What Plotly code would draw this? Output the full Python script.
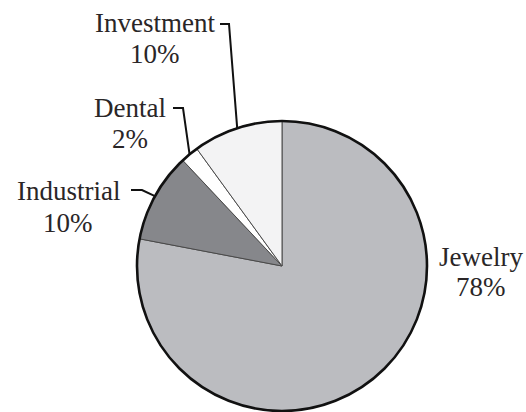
import math
import plotly.graph_objects as go

# Share of demand by end use
categories = ["Jewelry", "Industrial", "Dental", "Investment"]
shares = [78, 10, 2, 10]
fill_colors = ["#bbbcc0", "#86878b", "#ffffff", "#f3f3f4"]

W, H = 526, 412
CX, CY, R = 282, 266, 145  # pie centre and radius in pixels


def px_x(x):
    return x / W


def px_y(y):
    return 1 - y / H


dom_x = [px_x(CX - R), px_x(CX + R)]
dom_y = [px_y(CY + R), px_y(CY - R)]

fig = go.Figure()

# Slices with thin interior dividers
fig.add_trace(go.Pie(
    labels=categories, values=shares, sort=False, direction="clockwise",
    rotation=0, marker=dict(colors=fill_colors, line=dict(color="#4a4a4a", width=1)),
    textinfo="none", hoverinfo="label+percent", showlegend=False,
    domain=dict(x=dom_x, y=dom_y),
))

# Heavy outer rim
fig.add_trace(go.Pie(
    values=[1], sort=False, marker=dict(colors=["rgba(0,0,0,0)"], line=dict(color="#111111", width=2.6)),
    textinfo="none", hoverinfo="skip", showlegend=False,
    domain=dict(x=dom_x, y=dom_y),
))


def slice_mid_point(idx):
    total = sum(shares)
    start = sum(shares[:idx]) / total * 360
    mid = start + shares[idx] / total * 180
    a = math.radians(mid)
    return CX + R * math.sin(a), CY - R * math.cos(a)


# Label line centres (pixels): x, name-line y, value-line y
label_pos = {
    "Jewelry": (481, 257, 287),
    "Industrial": (68, 191, 223),
    "Dental": (130, 108, 139),
    "Investment": (155, 23, 54),
}
leader_elbows = {
    "Industrial": [(131, 190), (142, 190)],
    "Dental": [(173, 108), (183, 108)],
    "Investment": [(220, 24), (229, 24)],
}

text_font = dict(family="Liberation Serif, Times New Roman, serif", size=27, color="#2a2627")

for i, (cat, val) in enumerate(zip(categories, shares)):
    lx, ly1, ly2 = label_pos[cat]
    for txt, ly in ((cat, ly1), (f"{val}%", ly2)):
        fig.add_annotation(
            x=px_x(lx), y=px_y(ly), xref="paper", yref="paper",
            text=txt, showarrow=False, font=text_font,
            xanchor="center", yanchor="middle", align="center",
        )
    if cat in leader_elbows:
        pts = leader_elbows[cat] + [slice_mid_point(i)]
        path = "M " + " L ".join(f"{px_x(x):.5f},{px_y(y):.5f}" for x, y in pts)
        fig.add_shape(type="path", path=path, xref="paper", yref="paper",
                      line=dict(color="#111111", width=2))

fig.update_layout(
    width=W, height=H, margin=dict(l=0, r=0, t=0, b=0),
    paper_bgcolor="white", plot_bgcolor="white",
)

fig.write_html("out.html")
